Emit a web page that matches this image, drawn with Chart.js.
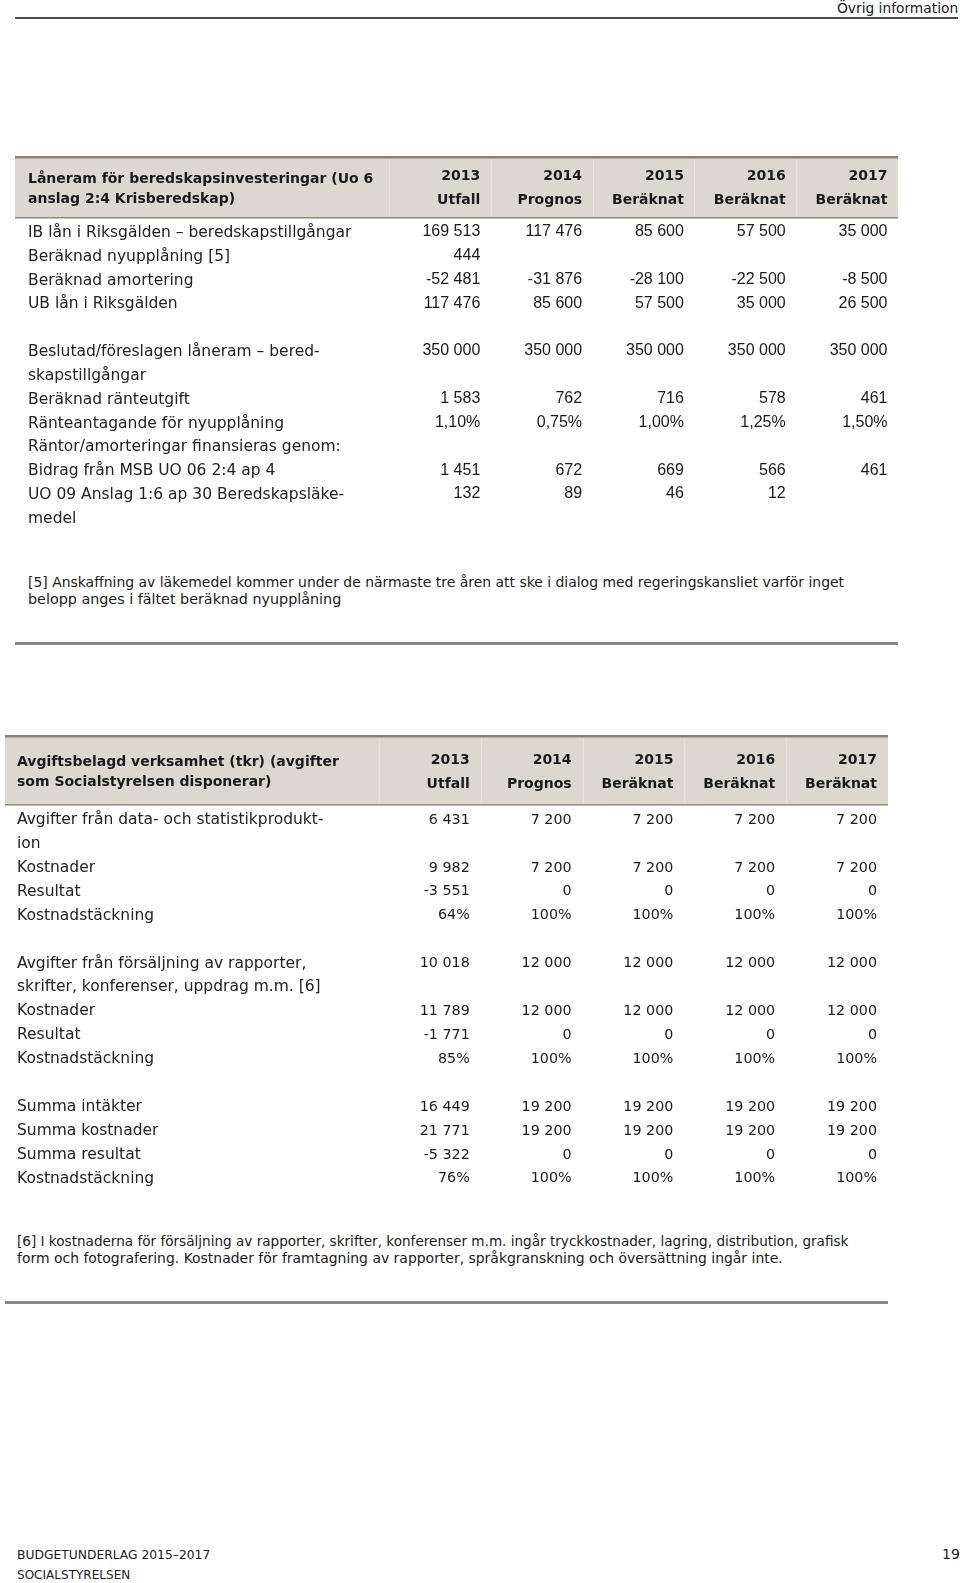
<!DOCTYPE html>
<html>
<head>
<meta charset="utf-8">
<style>
    body { margin: 0; width: 960px; height: 1583px; position: relative; background: #fff;
           font-family: "DejaVu Sans", sans-serif; color: #1a1a1a; overflow: hidden; }
    .txt { position: absolute; white-space: nowrap; line-height: 18px; transform-origin: left center; }
    .rule { position: absolute; }
    canvas { position: absolute; left: 0; }
</style>
</head>
<body>
    <!-- sidhuvud -->
    <div class="txt fit" data-w="121" style="left:837px; top:-1px; font-size:14px;">Övrig information</div>
    <div class="rule" style="left:15px; top:17px; width:943px; height:2px; background:#4a4a4a;"></div>

    <!-- tabell 1 -->
    <canvas id="table1" width="960" height="400" style="top:140px"></canvas>
    <div class="txt fit" data-w="816" style="left:28px; top:573px; font-size:14px;">[5] Anskaffning av läkemedel kommer under de närmaste tre åren att ske i dialog med regeringskansliet varför inget</div>
    <div class="txt fit" data-w="313" style="left:28px; top:590px; font-size:14px;">belopp anges i fältet beräknad nyupplåning</div>
    <div class="rule" style="left:15px; top:642px; width:883px; height:3px; background:#8d8679;"></div>

    <!-- tabell 2 -->
    <canvas id="table2" width="960" height="480" style="top:720px"></canvas>
    <div class="txt fit" data-w="831" style="left:17px; top:1232px; font-size:14px;">[6] I kostnaderna för försäljning av rapporter, skrifter, konferenser m.m. ingår tryckkostnader, lagring, distribution, grafisk</div>
    <div class="txt fit" data-w="766" style="left:17px; top:1249px; font-size:14px;">form och fotografering. Kostnader för framtagning av rapporter, språkgranskning och översättning ingår inte.</div>
    <div class="rule" style="left:5px; top:1301px; width:883px; height:3px; background:#8d8679;"></div>

    <!-- sidfot -->
    <div class="txt fit" data-w="193" style="left:17px; top:1546px; font-size:13px;">BUDGETUNDERLAG 2015–2017</div>
    <div class="txt fit" data-w="113" style="left:17px; top:1566px; font-size:13px;">SOCIALSTYRELSEN</div>
    <div class="txt" style="left:942px; top:1545px; font-size:14px;">19</div>

    <script src="https://cdn.jsdelivr.net/npm/chart.js"></script>
    <script>
        // kolumnrubriker
        const years = ['2013', '2014', '2015', '2016', '2017'];
        const yearNotes = ['Utfall', 'Prognos', 'Beräknat', 'Beräknat', 'Beräknat'];

        // tabell 1 : låneram
        const title1 = ['Låneram för beredskapsinvesteringar (Uo 6', 'anslag 2:4 Krisberedskap)'];
        const rows1 = [
            'IB lån i Riksgälden – beredskapstillgångar',
            'Beräknad nyupplåning [5]',
            'Beräknad amortering',
            'UB lån i Riksgälden',
            '',
            'Beslutad/föreslagen låneram – bered-',
            'skapstillgångar',
            'Beräknad ränteutgift',
            'Ränteantagande för nyupplåning',
            'Räntor/amorteringar finansieras genom:',
            'Bidrag från MSB UO 06 2:4 ap 4',
            'UO 09 Anslag 1:6 ap 30 Beredskapsläke-',
            'medel'
        ];
        const formats1 = ['n', 'n', 'n', 'n', '', 'n', '', 'n', 'p2', '', 'n', 'n', ''];
        const lan2013 = [169513, 444, -52481, 117476, null, 350000, null, 1583, 1.10, null, 1451, 132, null];
        const lan2014 = [117476, null, -31876, 85600, null, 350000, null, 762, 0.75, null, 672, 89, null];
        const lan2015 = [85600, null, -28100, 57500, null, 350000, null, 716, 1.00, null, 669, 46, null];
        const lan2016 = [57500, null, -22500, 35000, null, 350000, null, 578, 1.25, null, 566, 12, null];
        const lan2017 = [35000, null, -8500, 26500, null, 350000, null, 461, 1.50, null, 461, null, null];

        // tabell 2 : avgiftsbelagd verksamhet
        const title2 = ['Avgiftsbelagd verksamhet (tkr) (avgifter', 'som Socialstyrelsen disponerar)'];
        const rows2 = [
            'Avgifter från data- och statistikprodukt-',
            'ion',
            'Kostnader',
            'Resultat',
            'Kostnadstäckning',
            '',
            'Avgifter från försäljning av rapporter,',
            'skrifter, konferenser, uppdrag m.m. [6]',
            'Kostnader',
            'Resultat',
            'Kostnadstäckning',
            '',
            'Summa intäkter',
            'Summa kostnader',
            'Summa resultat',
            'Kostnadstäckning'
        ];
        const formats2 = ['n', '', 'n', 'n', 'p0', '', 'n', '', 'n', 'n', 'p0', '', 'n', 'n', 'n', 'p0'];
        const avg2013 = [6431, null, 9982, -3551, 64, null, 10018, null, 11789, -1771, 85, null, 16449, 21771, -5322, 76];
        const avg2014 = [7200, null, 7200, 0, 100, null, 12000, null, 12000, 0, 100, null, 19200, 19200, 0, 100];
        const avg2015 = [7200, null, 7200, 0, 100, null, 12000, null, 12000, 0, 100, null, 19200, 19200, 0, 100];
        const avg2016 = [7200, null, 7200, 0, 100, null, 12000, null, 12000, 0, 100, null, 19200, 19200, 0, 100];
        const avg2017 = [7200, null, 7200, 0, 100, null, 12000, null, 12000, 0, 100, null, 19200, 19200, 0, 100];

        // talformat: mellanslag som tusentalsavgränsare, komma som decimaltecken
        function fmt(v, f) {
            if (f === 'p2') return v.toFixed(2).replace('.', ',') + '%';
            if (f === 'p0') return v + '%';
            const s = String(Math.abs(v)).replace(/\B(?=(\d{3})+(?!\d))/g, ' ');
            return (v < 0 ? '-' : '') + s;
        }

        // ritar rubrikraden och cellerna utifrån x- och y-skalorna
        const tableCells = {
            id: 'tableCells',
            afterDraw(chart, args, o) {
                const { ctx, chartArea } = chart;
                const x = chart.scales.x, y = chart.scales.y;
                const colW = x.width / o.columns.length;
                const top = chartArea.top - o.headTop;
                const bottom = chartArea.top - o.headBottom;
                const w = chartArea.right - o.headLeft;
                ctx.save();
                ctx.fillStyle = '#dcd8cf';
                ctx.fillRect(o.headLeft, top, w, bottom - top);
                // svaga skiljelinjer i rubriken
                ctx.strokeStyle = '#e6e3dc';
                ctx.lineWidth = 1;
                for (let c = 0; c < o.columns.length; c++) {
                    const xb = Math.round(x.getPixelForValue(c) - colW / 2) + 0.5;
                    ctx.beginPath();
                    ctx.moveTo(xb, top + 3);
                    ctx.lineTo(xb, bottom - 1);
                    ctx.stroke();
                }
                ctx.fillStyle = '#8a8174';
                ctx.fillRect(o.headLeft, top, w, 2.5);
                ctx.fillStyle = '#8f897e';
                ctx.fillRect(o.headLeft, bottom - 1, w, 1.5);

                ctx.fillStyle = '#1a1a1a';
                ctx.textBaseline = 'middle';
                ctx.font = 'bold 14px "DejaVu Sans"';
                ctx.textAlign = 'left';
                o.title.forEach((t, i) => ctx.fillText(t, o.titleX, chartArea.top - o.titleY[i]));

                ctx.textAlign = 'right';
                o.columns.forEach((col, c) => {
                    const xr = x.getPixelForValue(c) + colW / 2 - o.pad;
                    ctx.font = 'bold 14px "DejaVu Sans"';
                    ctx.fillText(years[c], xr, chartArea.top - o.yearY[0]);
                    ctx.fillText(yearNotes[c], xr, chartArea.top - o.yearY[1]);
                    ctx.font = o.cellFont;
                    col.forEach((v, r) => {
                        if (v === null) return;
                        ctx.fillText(fmt(v, o.formats[r]), xr, y.getPixelForValue(r) + o.cellDy);
                    });
                });
                ctx.restore();
            }
        };

        function makeTable(id, rows, labelWidth, padding, cellOpts) {
            return new Chart(document.getElementById(id), {
                type: 'bar',
                data: { datasets: [] },
                options: {
                    responsive: false,
                    animation: false,
                    events: [],
                    devicePixelRatio: 1,
                    layout: { padding: padding },
                    plugins: {
                        legend: { display: false },
                        tooltip: { enabled: false },
                        tableCells: cellOpts
                    },
                    scales: {
                        x: { type: 'category', labels: years, offset: true, display: false },
                        y: {
                            type: 'category',
                            labels: rows,
                            offset: true,
                            grid: { display: false },
                            border: { display: false },
                            ticks: {
                                autoSkip: false,
                                crossAlign: 'far',
                                padding: 0,
                                color: '#222',
                                font: { family: 'DejaVu Sans', size: 15.5 }
                            },
                            afterFit(scale) { scale.width = labelWidth; }
                        }
                    }
                },
                plugins: [tableCells]
            });
        }

        makeTable('table1', rows1, 361, { left: 28, right: 62, top: 81, bottom: 7 }, {
            columns: [lan2013, lan2014, lan2015, lan2016, lan2017],
            formats: formats1,
            title: title1,
            headLeft: 15, headTop: 65, headBottom: 3,
            titleX: 28, titleY: [42, 22], yearY: [45, 21],
            pad: 10.5,
            cellFont: '16px "Liberation Sans"',
            cellDy: -1
        });

        makeTable('table2', rows2, 362, { left: 17, right: 72, top: 88, bottom: 8 }, {
            columns: [avg2013, avg2014, avg2015, avg2016, avg2017],
            formats: formats2,
            title: title2,
            headLeft: 5, headTop: 73, headBottom: 3,
            titleX: 17, titleY: [46, 26], yearY: [48, 24],
            pad: 11,
            cellFont: '14.3px "DejaVu Sans"',
            cellDy: 0
        });

        // anpassa textbredder i fotnoter och sidhuvud/sidfot
        document.querySelectorAll('.fit').forEach(el => {
            const target = parseFloat(el.dataset.w);
            const k = target / el.scrollWidth;
            el.style.transform = 'scaleX(' + k.toFixed(3) + ')';
        });
    </script>
</body>
</html>
